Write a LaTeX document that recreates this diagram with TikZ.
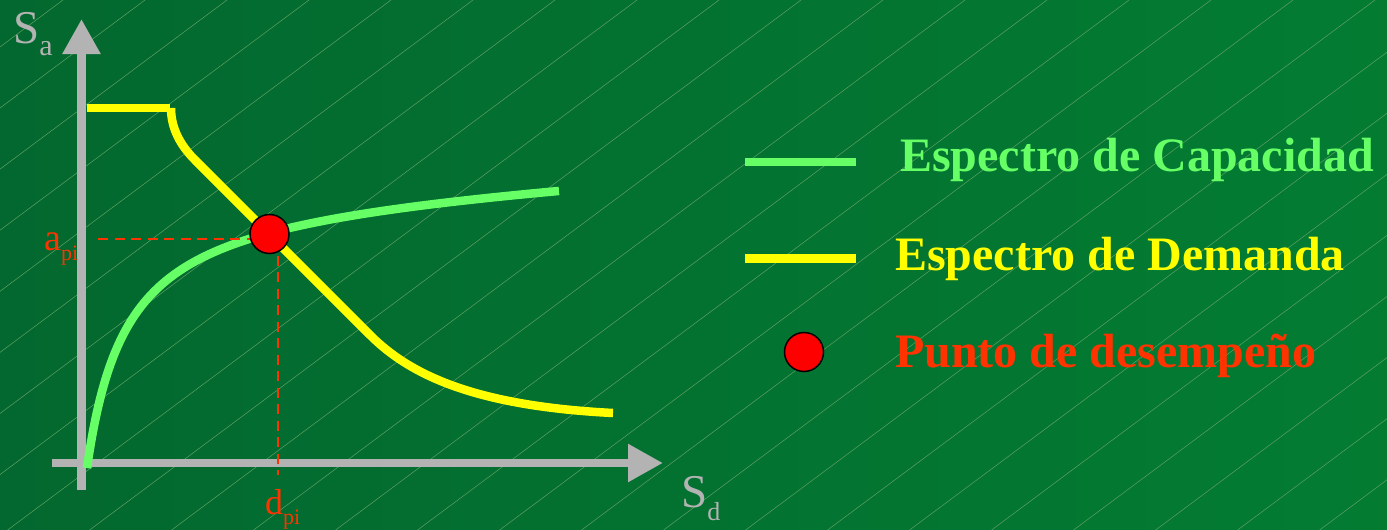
\documentclass[tikz,border=0pt]{standalone}
\usepackage{fontspec}
\setmainfont{Liberation Serif}
\usetikzlibrary{arrows.meta}
\definecolor{bgL}{RGB}{3,104,47}
\definecolor{bgR}{RGB}{3,124,50}
\definecolor{hatch}{RGB}{95,160,100}
\definecolor{axisgray}{RGB}{179,179,179}
\definecolor{capgreen}{RGB}{102,255,102}
\definecolor{demyellow}{RGB}{255,255,0}
\definecolor{ptorange}{RGB}{255,51,0}
\definecolor{ptred}{RGB}{255,0,0}
\tikzset{
  axisline/.style={draw=axisgray, line width=8.5pt, -{Triangle[length=35pt,width=36pt]}},
  capcurve/.style={draw=capgreen, line width=8.5pt},
  demcurve/.style={draw=demyellow, line width=8.5pt},
  guide/.style={draw=ptorange, line width=2.5pt, dash pattern=on 10pt off 6.5pt},
  ptdot/.style={circle, fill=ptred, draw=black, line width=1.5pt, minimum size=39pt, inner sep=0pt},
  axlabel/.style={text=axisgray, inner sep=0pt, anchor=base west},
  ptlabel/.style={text=ptorange, inner sep=0pt, anchor=base west},
  legendtext/.style={inner sep=0pt, anchor=base west, font=\fontsize{48}{50}\selectfont\bfseries},
}
\begin{document}
\begin{tikzpicture}[x=1pt,y=-1pt]
\useasboundingbox (0,0) rectangle (1387,530);
% background
\fill[left color=bgL, right color=bgR] (0,0) rectangle (1387,530);
\begin{scope}
\clip (0,0) rectangle (1387,530);
\foreach \k in {-1,...,26}{
  \draw[hatch, line width=0.5pt] ({63+82*\k},0) -- ++(-711.4,530);
}
\end{scope}
% axes
\coordinate (yb) at (81.5,490);
\coordinate (yt) at (81.5,19);
\coordinate (xl) at (52,463);
\coordinate (xr) at (663,463);
\draw[axisline] (yb) -- (yt);
\draw[axisline] (xl) -- (xr);
\node[axlabel] (sa) at (13,43) {\fontsize{47}{47}\selectfont S\raisebox{-12pt}{\fontsize{30}{30}\selectfont a}};
\node[axlabel] (sd) at (681,507) {\fontsize{47}{47}\selectfont S\raisebox{-13pt}{\fontsize{26}{26}\selectfont d}};
% capacity curve
\draw[capcurve] plot[domain=0:472, samples=240, smooth] ({87+\x},{468-(274.6*(\x/(\x+39.4))+0.05*\x)});
% demand curve
\coordinate (d0) at (87,108);
\coordinate (d1) at (170,108);
\coordinate (d2) at (171,108);
\coordinate (d3) at (195,160);
\coordinate (d4) at (370,335);
\coordinate (d5) at (613,413);
\draw[demcurve] (d0) -- (d1);
\draw[demcurve] (d2) .. controls (171,128) and (180,145) .. (d3) -- (d4) .. controls (410,375) and (475,406) .. (d5);
% guides
\coordinate (ga) at (98,239);
\coordinate (gb) at (262,239);
\coordinate (gc) at (278,239);
\coordinate (gd) at (278,475);
\draw[guide] (ga) -- (gb);
\draw[guide] (gc) -- (gd);
\node[ptdot] (pt) at (269.5,234) {};
\node[ptlabel] (api) at (44,250) {\fontsize{38}{38}\selectfont a\raisebox{-10pt}{\fontsize{22}{22}\selectfont pi}};
\node[ptlabel] (dpi) at (265,514) {\fontsize{36}{36}\selectfont d\raisebox{-10pt}{\fontsize{22}{22}\selectfont pi}};
% legend
\coordinate (l1a) at (745,162); \coordinate (l1b) at (856,162);
\coordinate (l2a) at (745,258); \coordinate (l2b) at (856,258);
\draw[capgreen, line width=8.5pt] (l1a) -- (l1b);
\draw[demyellow, line width=9pt] (l2a) -- (l2b);
\node[ptdot] (legpt) at (804,352) {};
\node[legendtext, text=capgreen] (t1) at (900,171) {Espectro de Capacidad};
\node[legendtext, text=demyellow] (t2) at (895,270) {Espectro de Demanda};
\node[legendtext, text=ptorange] (t3) at (895,367) {Punto de desempeño};
\end{tikzpicture}
\end{document}
